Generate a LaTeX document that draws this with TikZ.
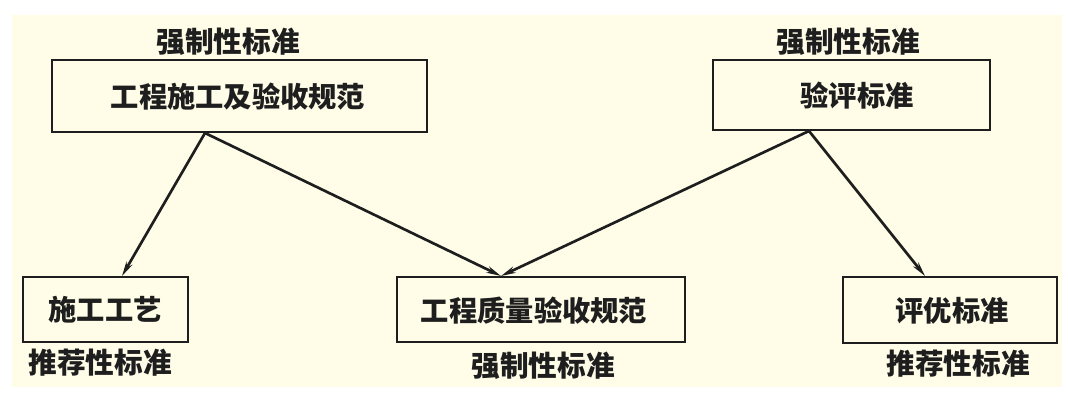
\documentclass[tikz,border=0pt]{standalone}
\usepackage{fontspec}
\setmainfont{Noto Sans CJK SC}
\usetikzlibrary{arrows.meta}
\definecolor{cream}{HTML}{FFFDE8}
\definecolor{ink}{HTML}{1E1E1E}
\tikzset{
  px/.style={x=0.75pt,y=-0.75pt},
  box/.style={draw=ink,line width=1.8pt,fill=cream,inner sep=0pt},
  boxtext/.style={font=\fontsize{21.2}{23}\selectfont\bfseries,text=ink},
  tag/.style={font=\fontsize{21.5}{23}\selectfont\bfseries,text=ink,inner sep=0pt},
  conn/.style={draw=ink,line width=2pt,-{Stealth[length=11pt,width=5pt]}}
}
\begin{document}
\begin{tikzpicture}[px]
\fill[white] (0,0) rectangle (1068,400);
\fill[cream] (12,15) rectangle (1062,387);
\useasboundingbox (0,0) rectangle (1068,400);
% boxes
\draw[box] (52,60) rectangle (427,132);
\draw[box] (713,60) rectangle (990,130);
\draw[box] (23,277) rectangle (188,342);
\draw[box] (397,277) rectangle (685,342);
\draw[box] (843,277) rectangle (1057,343);
% box texts
\node[boxtext] (A) at (238,97) {工程施工及验收规范};
\node[boxtext] (B) at (857,96) {验评标准};
\node[boxtext] (C) at (105,310) {施工工艺};
\node[boxtext] (D) at (534,311) {工程质量验收规范};
\node[boxtext] (E) at (952,311) {评优标准};
% tags
\node[tag] (tA) at (228,42) {强制性标准};
\node[tag] (tB) at (848,42) {强制性标准};
\node[tag] (tC) at (100,363) {推荐性标准};
\node[tag] (tD) at (543,366) {强制性标准};
\node[tag] (tE) at (958,364) {推荐性标准};
% connector endpoints
\coordinate (Aout) at (205,133);
\coordinate (Bout) at (809,131);
\coordinate (Cin) at (122,276);
\coordinate (Din) at (501,276);
\coordinate (Ein) at (925,276);
\draw[conn] (Aout) -- (Cin);
\draw[conn] (Aout) -- (Din);
\draw[conn] (Bout) -- (Din);
\draw[conn] (Bout) -- (Ein);
\end{tikzpicture}
\end{document}
